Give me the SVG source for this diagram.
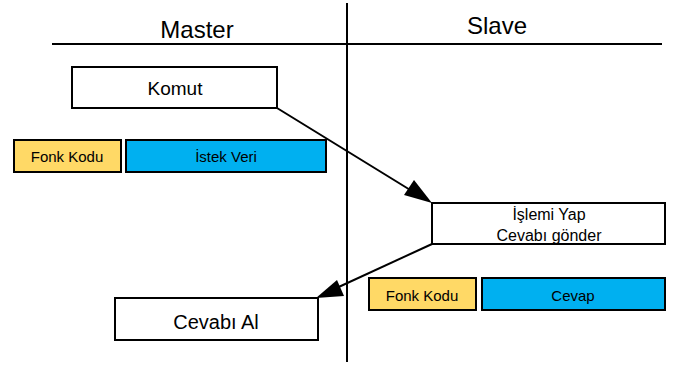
<svg xmlns="http://www.w3.org/2000/svg" width="675" height="370" viewBox="0 0 675 370">
  <style>
    .box { fill: #ffffff; stroke: #000000; stroke-width: 2; }
    .fonk { fill: #ffd966; stroke: #000000; stroke-width: 2; }
    .data { fill: #00b0f0; stroke: #000000; stroke-width: 2; }
    .lane { stroke: #000000; stroke-width: 2; fill: none; }
    .link { stroke: #000000; stroke-width: 2; fill: none; }
    .tip { fill: #000000; }
    text { font-family: "Liberation Sans", Arial, sans-serif; fill: #000000; text-anchor: middle; dominant-baseline: central; }
    .head { font-size: 24px; }
    .lbl { font-size: 19px; }
    .big { font-size: 20px; }
    .sm { font-size: 15px; }
    .mid { font-size: 16px; }
  </style>
  <rect width="675" height="370" fill="#ffffff"/>

  <!-- swimlane headers and dividers -->
  <g id="lanes">
    <line class="lane" x1="52" y1="44" x2="662" y2="44"/>
    <line class="lane" x1="347" y1="3" x2="347" y2="362"/>
    <text class="head" x="197" y="29">Master</text>
    <text class="head" x="497" y="25">Slave</text>
  </g>

  <!-- request and response arrows with filled heads -->
  <g id="connectors">
    <line class="link" x1="277" y1="108" x2="420" y2="196"/>
    <path class="tip" d="M432,203 L404,195 L414,180 z"/>
    <line class="link" x1="432" y1="244" x2="330" y2="291"/>
    <path class="tip" d="M316,298 L337,280 L344,296 z"/>
  </g>

  <g id="komut">
    <rect class="box" x="72" y="67" width="205" height="41"/>
    <text class="lbl" x="175" y="88">Komut</text>
  </g>

  <g id="istek-fonk">
    <rect class="fonk" x="14" y="140" width="107" height="32"/>
    <text class="sm" x="67" y="156">Fonk Kodu</text>
  </g>
  <g id="istek-veri">
    <rect class="data" x="126" y="140" width="200" height="32"/>
    <text class="sm" x="226" y="156">İstek Veri</text>
  </g>

  <g id="islemi-yap">
    <rect class="box" x="432" y="203" width="233" height="41"/>
    <text class="mid" x="549" y="214">İşlemi Yap</text>
    <text class="mid" x="549" y="235">Cevabı gönder</text>
  </g>

  <g id="cevap-fonk">
    <rect class="fonk" x="369" y="278" width="107" height="32"/>
    <text class="sm" x="422" y="295">Fonk Kodu</text>
  </g>
  <g id="cevap">
    <rect class="data" x="482" y="278" width="183" height="32"/>
    <text class="sm" x="573" y="295">Cevap</text>
  </g>

  <g id="cevabi-al">
    <rect class="box" x="115" y="298" width="203" height="42"/>
    <text class="big" x="216" y="322">Cevabı Al</text>
  </g>
</svg>
